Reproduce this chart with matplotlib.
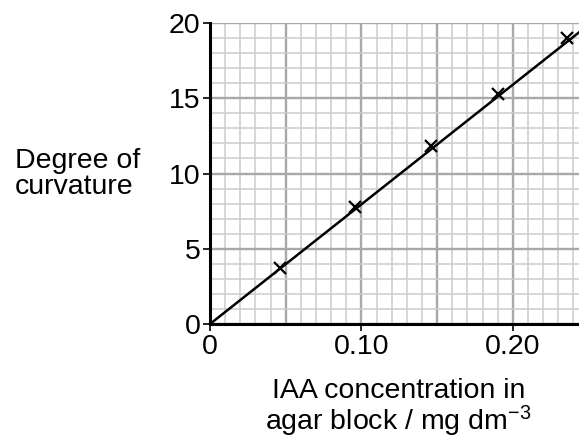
import matplotlib
matplotlib.use("Agg")
import matplotlib.pyplot as plt
from matplotlib.ticker import MultipleLocator, FixedLocator

plt.rcParams['font.family'] = ['Liberation Sans', 'DejaVu Sans']
plt.rcParams['mathtext.default'] = 'regular'

# data
conc = [0.046, 0.096, 0.146, 0.190, 0.236]
curvature = [3.7, 7.8, 11.8, 15.3, 19.0]
line_x = [0.0, 0.244]
line_y = [0.0, 19.4]
xtick_vals = [0.0, 0.05, 0.10, 0.15, 0.20]
xtick_labels = ["0", "", "0.10", "", "0.20"]
ytick_vals = [0, 5, 10, 15, 20]

FS = 20.5

fig = plt.figure(figsize=(5.79, 4.42), dpi=100)
W, H = 579, 442
left, right, top, bottom = 210, 579, 23, 324
ax = fig.add_axes([left / W, (H - bottom) / H, (right - left) / W, (bottom - top) / H])

ax.set_xlim(0, 0.2437)
ax.set_ylim(0, 20)

ax.xaxis.set_minor_locator(MultipleLocator(0.01))
ax.yaxis.set_minor_locator(MultipleLocator(1))
ax.set_xticks(xtick_vals)
ax.set_xticklabels(xtick_labels)
ax.yaxis.set_major_locator(FixedLocator(ytick_vals))

ax.grid(which='minor', color='#cccccc', linewidth=1.1)
ax.grid(which='major', color='#a8a8a8', linewidth=1.7)
ax.set_axisbelow(True)

ax.tick_params(axis='both', which='major', direction='out', length=5, width=1.2,
               labelsize=FS, colors='black', pad=2)
ax.tick_params(axis='both', which='minor', length=0)
for t, lab in zip(ax.xaxis.get_major_ticks(), xtick_labels):
    if not lab:
        t.tick1line.set_visible(False)

for s in ['right', 'top']:
    ax.spines[s].set_visible(False)
for s in ['left', 'bottom']:
    ax.spines[s].set_linewidth(2.2)
    ax.spines[s].set_color('black')

ax.plot(line_x, line_y, color='black', linewidth=1.8, clip_on=False, zorder=3)
ax.plot(conc, curvature, linestyle='none', marker='x', markersize=8,
        markeredgewidth=1.6, color='black', zorder=4)

ax.set_ylabel("Degree of\ncurvature", rotation=0, ha='left', va='center',
              fontsize=FS, linespacing=1.0)
ax.yaxis.set_label_coords(-0.528, 0.498)

ax.set_xlabel("IAA concentration in\nagar block / mg dm$^{-3}$", fontsize=FS,
              linespacing=1.0, ha='center', va='top')
ax.xaxis.set_label_coords(0.51, -0.18)

fig.savefig("out.png", dpi=100)
